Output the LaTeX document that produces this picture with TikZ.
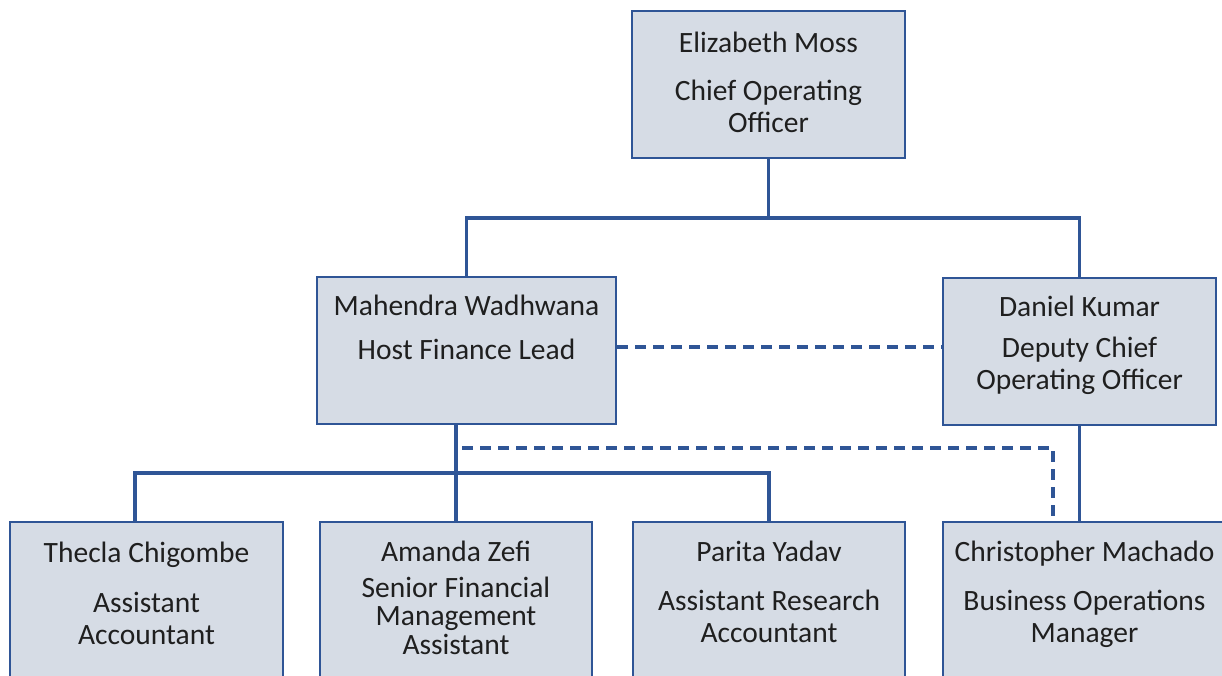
\documentclass[tikz,border=0pt]{standalone}
\usepackage{fontspec}
\setmainfont{Carlito}
\definecolor{navy}{RGB}{47,85,150}
\definecolor{boxfill}{RGB}{214,220,229}
\tikzset{
  orgbox/.style={draw=navy, fill=boxfill, line width=2.8pt, rectangle, inner sep=0pt},
  lbl/.style={anchor=base, inner sep=0pt, text=black!88, font=\fontsize{29.5}{32}\selectfont},
  link/.style={draw=navy, line width=3.1pt},
  dlink/.style={link, line width=3.4pt, dash pattern=on 11pt off 7pt}
}
\begin{document}
\begin{tikzpicture}[x=1pt,y=-1pt]
\useasboundingbox (0,0) rectangle (1222,675);
\clip (0,0) rectangle (1222,675);
\fill[white] (0,0) rectangle (1222,675);

% boxes
\node[orgbox, minimum width=273pt, minimum height=147pt] (ceo) at (768.5,84.5) {};
\node[orgbox, minimum width=299pt, minimum height=147pt] (mw) at (466.5,350.5) {};
\node[orgbox, minimum width=273pt, minimum height=147pt] (dk) at (1079.5,351.5) {};
\node[orgbox, minimum width=273pt, minimum height=180pt] (tc) at (146.5,612) {};
\node[orgbox, minimum width=272pt, minimum height=180pt] (az) at (456,612) {};
\node[orgbox, minimum width=272pt, minimum height=180pt] (py) at (769,612) {};
\node[orgbox, minimum width=283pt, minimum height=180pt] (cm) at (1084.5,612) {};

% texts
\node[lbl] (ceo-n) at (768.5,52) {Elizabeth Moss};
\node[lbl] (ceo-t1) at (768.5,100) {Chief Operating};
\node[lbl] (ceo-t2) at (768.5,132) {Officer};

\node[lbl] (mw-n) at (466.5,315) {Mahendra Wadhwana};
\node[lbl] (mw-t1) at (466.5,359) {Host Finance Lead};

\node[lbl] (dk-n) at (1079.5,316) {Daniel Kumar};
\node[lbl] (dk-t1) at (1079.5,357) {Deputy Chief};
\node[lbl] (dk-t2) at (1079.5,389) {Operating Officer};

\node[lbl] (tc-n) at (146.5,562) {Thecla Chigombe};
\node[lbl] (tc-t1) at (146.5,612) {Assistant};
\node[lbl] (tc-t2) at (146.5,644) {Accountant};

\node[lbl] (az-n) at (456,561) {Amanda Zefi};
\node[lbl] (az-t1) at (456,597) {Senior Financial};
\node[lbl] (az-t2) at (456,625) {Management};
\node[lbl] (az-t3) at (456,654) {Assistant};

\node[lbl] (py-n) at (769,561) {Parita Yadav};
\node[lbl] (py-t1) at (769,610) {Assistant Research};
\node[lbl] (py-t2) at (769,642) {Accountant};

\node[lbl] (cm-n) at (1084.5,561) {Christopher Machado};
\node[lbl] (cm-t1) at (1084.5,610) {Business Operations};
\node[lbl] (cm-t2) at (1084.5,642) {Manager};

% connectors
\coordinate (j1) at (768.5,218);
\coordinate (j2) at (456,473);
\draw[link] (ceo.south) -- (ceo.south |- j1);
\draw[link] (mw.north) |- (j1) -| (dk.north);
\draw[link] ([xshift=-10.5pt]mw.south) -- (az.north);
\draw[link] ([xshift=-11.5pt]tc.north) |- (j2) -| (py.north);
\draw[link] (dk.south) -- (dk.south |- cm.north);

\coordinate (d1) at ([yshift=3.5pt]mw.east);
\draw[dlink] (d1) -- (d1 -| dk.west);
\coordinate (d2) at (462,448);
\draw[dlink] (d2) -| ([xshift=-31.5pt]cm.north);
\end{tikzpicture}
\end{document}
